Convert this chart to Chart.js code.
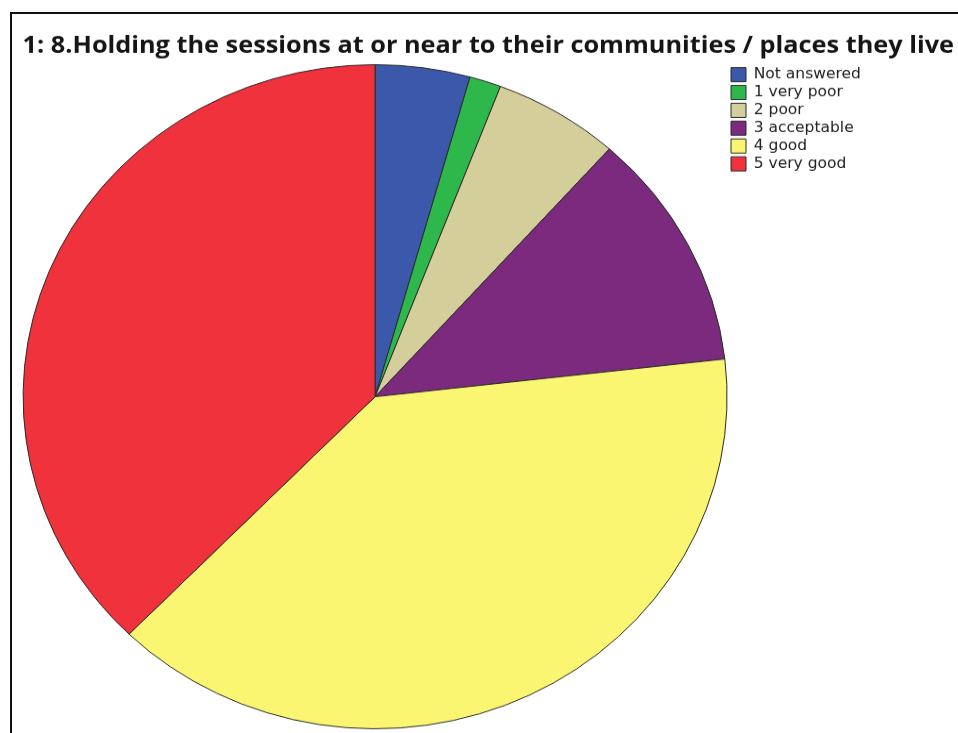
<!DOCTYPE html>
<html>
<head>
  <meta charset="UTF-8" />
  <title>Holding the sessions at or near to their communities</title>
  <script src="https://cdn.jsdelivr.net/npm/chart.js"></script>
  <style>
    html, body { margin: 0; padding: 0; overflow: hidden; background: #fff; }
    #frame { position: absolute; left: 10px; top: 12px; width: 1200px; height: 1000px; border: 2px solid #111; }
    #pie { position: absolute; left: 0; top: 0; }
  </style>
</head>
<body>
  <div id="frame"></div>
  <!-- drawn 958x777, shown 958x733: the original pie is slightly squashed vertically -->
  <canvas id="pie" width="958" height="777" style="width:958px;height:733px"></canvas>
  <script>
    const titleText = '1: 8.Holding the sessions at or near to their communities / places they live';
    const categories = ['Not answered', '1 very poor', '2 poor', '3 acceptable', '4 good', '5 very good'];
    const counts = [3, 1, 4, 8, 27, 26];
    const sliceColors = ['#3C58AA', '#2EB84C', '#D4CF9A', '#7B2A7E', '#FAF672', '#EF323C'];

    const legendFont = { family: 'DejaVu Sans', size: 15.5 };
    const boxW = 15, boxH = 15, legPad = 3.4;
    const legendLeft = 727.6;

    // work out how wide chart.js will make the right-hand legend, so it starts at legendLeft
    const mctx = document.createElement('canvas').getContext('2d');
    mctx.font = legendFont.size + 'px "' + legendFont.family + '"';
    const widest = Math.max(...categories.map(c => mctx.measureText(c).width));
    const legendWidth = legPad + boxW + legendFont.size / 2 + widest + 10;
    const padRight = 958 - legendLeft - legendWidth;

    // the built-in title gets squeezed to the padded width, so draw it ourselves
    const wideTitle = {
      id: 'wideTitle',
      afterDraw(chart) {
        const ctx = chart.ctx;
        ctx.save();
        ctx.font = 'bold 25.3px "Open Sans"';
        ctx.fillStyle = '#151515';
        ctx.textAlign = 'left';
        ctx.textBaseline = 'middle';
        ctx.fillText(titleText, 22.6, 48.8);
        ctx.restore();
      }
    };

    new Chart(document.getElementById('pie'), {
      type: 'pie',
      data: {
        labels: categories,
        datasets: [{
          data: counts,
          backgroundColor: sliceColors,
          borderColor: '#2a2a2a',
          borderWidth: 1
        }]
      },
      options: {
        responsive: false,
        animation: false,
        layout: { padding: { top: 68, left: 22.6, right: padRight, bottom: 4 } },
        plugins: {
          tooltip: { enabled: false },
          title: { display: false },
          legend: {
            position: 'right',
            align: 'start',
            fullSize: false,
            labels: {
              color: '#222',
              boxWidth: boxW,
              boxHeight: boxH,
              padding: legPad,
              font: legendFont
            }
          }
        }
      },
      plugins: [wideTitle]
    });
  </script>
</body>
</html>
